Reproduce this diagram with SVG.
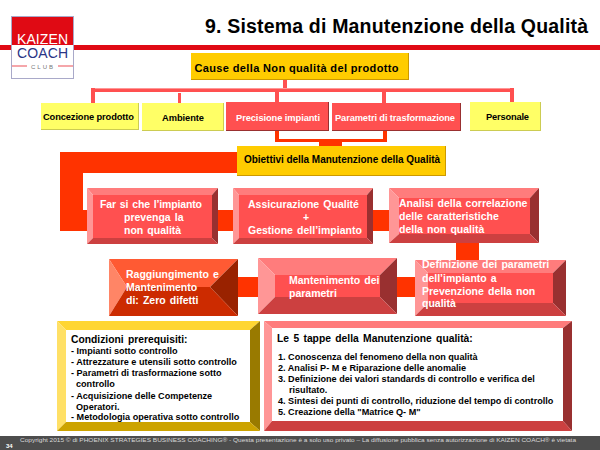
<svg xmlns="http://www.w3.org/2000/svg" width="600" height="450" viewBox="0 0 600 450">
<style>
text{font-family:"Liberation Sans",Arial,sans-serif;font-weight:bold}
.k{fill:#000}.w{fill:#fff}
.t{fill:#FF7C7C}.l{fill:#FF9696}.r{fill:#993030}.b{fill:#CC4040}.f{fill:#FF5050}
.c{fill:#FF5050}.o{fill:#FF3300}
.s10{font-size:10.5px;word-spacing:1.2px}
.s9{font-size:9.300px}
.s85{font-size:9.100px}
.h{font-size:10.300px;word-spacing:1.500px}
</style>
<rect width="600" height="450" fill="#fff"/>
<rect id="rule" x="0" y="45" width="600" height="5" fill="#E00A14"/>
<text id="title" x="205" y="33" font-size="19.500" textLength="383" class="k">9. Sistema di Manutenzione della Qualità</text>
<g id="logo">
<rect x="11" y="16" width="63" height="63" fill="#fff"/>
<rect x="11" y="16" width="63" height="29" fill="#E00A14"/>
<rect x="11" y="65" width="16" height="2" fill="#F5A6AA"/><rect x="58" y="65" width="16" height="2" fill="#F5A6AA"/>
<rect x="11.500" y="16.500" width="62" height="62" fill="none" stroke="#A9A9C9"/>
<text x="42.500" y="44" font-size="14" fill="#fff" text-anchor="middle" textLength="51" style="font-weight:normal">KAIZEN</text>
<text x="42.500" y="58" font-size="14" fill="#2A3586" text-anchor="middle" textLength="51" style="font-weight:normal">COACH</text>
<text x="43" y="69" font-size="6" fill="#777" text-anchor="middle" letter-spacing="2" style="font-weight:normal">CLUB</text>
</g>
<g id="connectors">
<rect class="c" x="283" y="80" width="4" height="12"/>
<rect class="c" x="91" y="88" width="423" height="4"/>
<rect x="91" y="88" width="423" height="1" fill="#FF9696"/>
<rect class="c" x="91" y="88" width="4" height="15"/>
<rect class="c" x="178" y="93" width="3" height="10"/>
<rect class="c" x="275" y="90" width="4" height="13"/>
<rect class="c" x="382" y="90" width="4" height="13"/>
<rect class="c" x="510" y="88" width="4" height="15"/>
<rect class="o" x="275" y="131" width="4" height="11"/>
<rect class="o" x="383" y="131" width="4" height="11"/>
<rect class="o" x="275" y="139" width="112" height="3"/>
<rect class="o" x="319" y="141" width="23" height="6"/>
<polygon class="o" points="60,152 238,152 238,173 83,173 83,210 90,210 90,231 60,231"/>
<rect class="o" x="218" y="210" width="16" height="21"/>
<rect class="o" x="373" y="210" width="16" height="21"/>
<rect class="o" x="456" y="243" width="23" height="18"/>
<rect class="o" x="238" y="277" width="20" height="20"/>
<rect class="o" x="397" y="277" width="18" height="20"/>
</g>
<g id="cause">
<rect x="191" y="53" width="218" height="27" fill="#CC9900"/><rect x="191" y="53" width="217" height="26" fill="#FFCC00"/>
<text x="194.500" y="72" font-size="11" class="k" textLength="204">Cause  della Non qualità del prodotto</text>
</g>
<g id="concezione">
<rect x="41" y="103" width="98" height="27" fill="#CCCC52"/><rect x="41" y="103" width="97" height="26" fill="#FFFF66"/>
<text x="43" y="120" class="k s9" textLength="91">Concezione prodotto</text>
</g>
<g id="ambiente">
<rect x="142" y="103" width="82" height="28" fill="#CCCC52"/><rect x="142" y="103" width="81" height="27" fill="#FFFF66"/>
<text x="162" y="121" class="k s9" textLength="42">Ambiente</text>
</g>
<g id="precisione">
<rect x="226" y="102" width="103" height="29" fill="#993030"/><rect x="226" y="102" width="102" height="28" fill="#FF5050"/>
<text x="236" y="121" class="w s9" textLength="84">Precisione impianti</text>
</g>
<g id="parametri">
<rect x="332" y="103" width="129" height="28" fill="#993030"/><rect x="332" y="103" width="128" height="27" fill="#FF5050"/>
<text x="335" y="121" class="w s9" textLength="120">Parametri di trasformazione</text>
</g>
<g id="personale">
<rect x="470" y="102" width="71" height="29" fill="#CCCC52"/><rect x="470" y="102" width="70" height="28" fill="#FFFF66"/>
<text x="486" y="120" class="k s9" textLength="43">Personale</text>
</g>
<g id="obiettivi">
<rect x="237" y="146" width="209" height="30" fill="#CC9900"/><rect x="237" y="146" width="208" height="29" fill="#FFCC00"/>
<text x="244" y="163" font-size="10" class="k" textLength="196">Obiettivi della Manutenzione della Qualità</text>
</g>
<g id="box-far">
<polygon class="t" points="87,188 218,188 212,195 93,195"/><polygon class="l" points="87,188 93,195 93,238 87,244"/><polygon class="r" points="218,188 218,244 212,238 212,195"/><polygon class="b" points="87,244 93,238 212,238 218,244"/><rect class="f" x="93" y="195" width="119" height="43"/>
<text class="w s10" x="100" y="208" textLength="102">Far si che l’impianto</text>
<text class="w s10" x="124" y="221">prevenga la</text>
<text class="w s10" x="124" y="234">non qualità</text>
</g>
<g id="box-assicurazione">
<polygon class="t" points="233,188 373,188 367,195 239,195"/><polygon class="l" points="233,188 239,195 239,238 233,244"/><polygon class="r" points="373,188 373,244 367,238 367,195"/><polygon class="b" points="233,244 239,238 367,238 373,244"/><rect class="f" x="239" y="195" width="128" height="43"/>
<text class="w s10" x="248" y="208">Assicurazione Qualité</text>
<text class="w s10" x="306" y="221" text-anchor="middle">+</text>
<text class="w s10" x="248" y="234">Gestione dell’impianto</text>
</g>
<g id="box-analisi">
<polygon class="t" points="389,188 539,188 530,198 399,198"/><polygon class="l" points="389,188 399,198 399,234 389,243"/><polygon class="r" points="539,188 539,243 530,234 530,198"/><polygon class="b" points="389,243 399,234 530,234 539,243"/><rect class="f" x="399" y="198" width="131" height="36"/>
<text class="w s10" x="399" y="207">Analisi della correlazione</text>
<text class="w s10" x="399" y="220">delle caratteristiche</text>
<text class="w s10" x="399" y="233">della non qualità</text>
</g>
<g id="box-raggiungimento">
<polygon fill="#FF5A33" points="109,259 238,259 210,287 127,287"/><polygon fill="#FF8566" points="109,259 127,287 109,316"/><polygon fill="#992200" points="238,259 238,316 210,287"/><polygon fill="#CC2B00" points="109,316 127,287 210,287 238,316"/>
<text class="w s10" x="126" y="278">Raggiungimento e</text>
<text class="w s10" x="126" y="291">Mantenimento</text>
<text class="w s10" x="126" y="304">di: Zero difetti</text>
</g>
<g id="box-mantenimento">
<polygon class="t" points="258,258 397,258 380,275 275,275"/><polygon class="l" points="258,258 275,275 275,297 258,314"/><polygon class="r" points="397,258 397,314 380,297 380,275"/><polygon class="b" points="258,314 275,297 380,297 397,314"/><rect class="f" x="275" y="275" width="105" height="22"/>
<text class="w s10" x="289" y="284">Mantenimento dei</text>
<text class="w s10" x="289" y="297">parametri</text>
</g>
<g id="box-definizione">
<polygon class="t" points="415,260 566,260 553,273 428,273"/><polygon class="l" points="415,260 428,273 428,303 415,316"/><polygon class="r" points="566,260 566,316 553,303 553,273"/><polygon class="b" points="415,316 428,303 553,303 566,316"/><rect class="f" x="428" y="273" width="125" height="30"/>
<text class="w s10" x="422" y="268">Definizione dei parametri</text>
<text class="w s10" x="422" y="282">dell’impianto a</text>
<text class="w s10" x="422" y="295">Prevenzione della non</text>
<text class="w s10" x="422" y="307">qualità</text>
</g>
<g id="box-condizioni">
<polygon fill="#FFD633" points="57,321 260,321 250,330 66,330"/><polygon fill="#FFE066" points="57,321 66,330 66,422 57,431"/><polygon fill="#997A00" points="260,321 260,431 250,422 250,330"/><polygon fill="#CCA300" points="57,431 66,422 250,422 260,431"/><rect x="66" y="330" width="184" height="92" fill="#fff"/>
<text x="71" y="343" class="k h">Condizioni prerequisiti:</text>
<text x="71" y="354" class="k s85">- Impianti sotto controllo</text>
<text x="71" y="365" class="k s85">- Attrezzature e utensili sotto controllo</text>
<text x="71" y="376" class="k s85">- Parametri di trasformazione sotto</text>
<text x="76" y="387" class="k s85">controllo</text>
<text x="71" y="399" class="k s85">- Acquisizione delle Competenze</text>
<text x="76" y="410" class="k s85">Operatori.</text>
<text x="71" y="420" class="k s85">- Metodologia operativa sotto controllo</text>
</g>
<g id="box-tappe">
<polygon class="t" points="264,321 572,321 563,328 272,328"/><polygon class="l" points="264,321 272,328 272,421 264,431"/><polygon class="r" points="572,321 572,431 563,421 563,328"/><polygon class="b" points="264,431 272,421 563,421 572,431"/><rect x="272" y="328" width="291" height="93" fill="#fff"/>
<text x="277" y="342" class="k h">Le 5 tappe della Manutenzione qualità:</text>
<text x="278" y="360" class="k s85">1. Conoscenza del fenomeno della non qualità</text>
<text x="278" y="371" class="k s85">2. Analisi P- M e Riparazione delle anomalie</text>
<text x="278" y="382" class="k s85">3. Definizione dei valori standards di controllo e verifica del</text>
<text x="289" y="393" class="k s85">risultato.</text>
<text x="278" y="404" class="k s85">4. Sintesi dei punti di controllo, riduzione del tempo di controllo</text>
<text x="278" y="415" class="k s85">5. Creazione della "Matrice Q- M"</text>
</g>
<g id="footer">
<rect x="0" y="436" width="600" height="14" fill="#4D4D4D"/>
<text x="20" y="441.500" font-size="6" fill="#D9D9D9" textLength="556" lengthAdjust="spacingAndGlyphs" style="font-weight:normal">Copyright 2015 © di PHOENIX STRATEGIES BUSINESS COACHING®  - Questa presentazione è a solo uso privato – La diffusione pubblica senza autorizzazione di KAIZEN COACH® è vietata</text>
<text x="6" y="448" font-size="6" fill="#fff">34</text>
</g>
</svg>
